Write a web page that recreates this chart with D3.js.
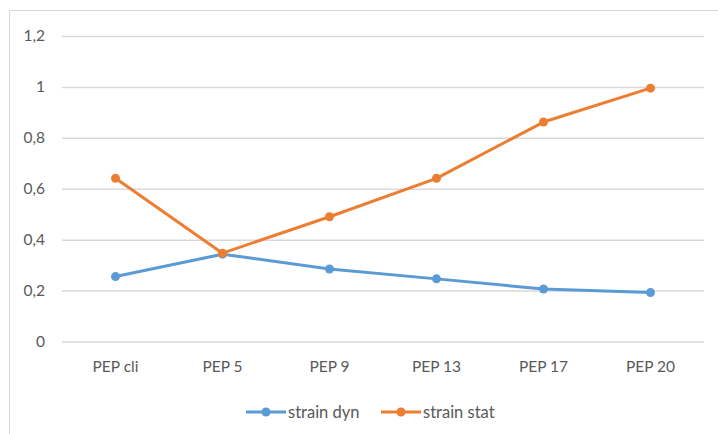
<!DOCTYPE html>
<html>
<head>
<meta charset="utf-8">
<script src="https://cdn.jsdelivr.net/npm/d3@7"></script>
<style>
  body { margin: 0; background: #fff; }
  #viz text { font-family: Lato, "Open Sans", sans-serif; fill: #595959; }
</style>
</head>
<body>
<div id="viz"></div>
<script>
// chart data
const categories = ["PEP cli", "PEP 5", "PEP 9", "PEP 13", "PEP 17", "PEP 20"];
const strainDyn = [0.255, 0.343, 0.285, 0.246, 0.206, 0.192];
const strainStat = [0.641, 0.347, 0.49, 0.641, 0.862, 0.995];
const yTicks = [0, 0.2, 0.4, 0.6, 0.8, 1, 1.2];
const seriesNames = ["strain dyn", "strain stat"];

function drawViz() {
  d3.select("#viz").html("");
  var width = 718, height = 434;
  var margin = {top: 36, right: 14, bottom: 92.5, left: 62};
  var innerW = width - margin.left - margin.right,
      innerH = height - margin.top - margin.bottom;

  var svg = d3.select("#viz").append("svg")
    .attr("width", width)
    .attr("height", height);

  // chart frame
  svg.append("rect")
    .attr("x", 9.5).attr("y", 10.5)
    .attr("width", 730).attr("height", 450)
    .attr("fill", "none")
    .attr("stroke", "#d9d9d9");

  var g = svg.append("g")
    .attr("transform", "translate(" + margin.left + "," + margin.top + ")");

  var x = d3.scaleBand().domain(categories).range([0, innerW]);
  var y = d3.scaleLinear().domain([0, 1.2]).range([innerH, 0]);

  // gridlines + y labels
  var yAxis = g.append("g")
    .call(d3.axisLeft(y).tickValues(yTicks).tickSize(-innerW)
      .tickFormat(d => d3.format("~g")(d).replace(".", ",")))
    .call(a => a.select(".domain").remove());
  yAxis.selectAll("line").attr("stroke", "#d9d9d9").attr("stroke-width", 1.5);
  yAxis.selectAll("text").attr("x", -17).attr("font-size", 15.5);

  // x labels
  var xAxis = g.append("g")
    .attr("transform", "translate(0," + innerH + ")")
    .call(d3.axisBottom(x).tickSize(0).tickPadding(19))
    .call(a => a.select(".domain").remove());
  xAxis.selectAll("text").attr("font-size", 15.5);

  var colors = ["#5b9bd5", "#ed7d31"];
  var series = [strainDyn, strainStat];

  var line = d3.line()
    .x((d, i) => x(categories[i]) + x.bandwidth() / 2)
    .y(d => y(d));

  series.forEach(function(vals, k) {
    g.append("path")
      .datum(vals)
      .attr("fill", "none")
      .attr("stroke", colors[k])
      .attr("stroke-width", 3)
      .attr("stroke-linejoin", "round")
      .attr("d", line);
    g.selectAll(".pt" + k)
      .data(vals)
      .enter().append("circle")
      .attr("cx", (d, i) => x(categories[i]) + x.bandwidth() / 2)
      .attr("cy", d => y(d))
      .attr("r", 4.5)
      .attr("fill", colors[k]);
  });

  // legend
  var legend = svg.append("g").attr("transform", "translate(246,412)");
  var offsets = [0, 135];
  seriesNames.forEach(function(name, k) {
    var lg = legend.append("g").attr("transform", "translate(" + offsets[k] + ",0)");
    lg.append("line")
      .attr("x1", 0).attr("x2", 40).attr("y1", 0).attr("y2", 0)
      .attr("stroke", colors[k]).attr("stroke-width", 3);
    lg.append("circle").attr("cx", 20).attr("cy", 0).attr("r", 4.5).attr("fill", colors[k]);
    lg.append("text")
      .attr("x", 42).attr("y", 0).attr("dy", "0.35em")
      .attr("font-size", 16.5)
      .text(name);
  });
}

drawViz();
</script>
</body>
</html>
